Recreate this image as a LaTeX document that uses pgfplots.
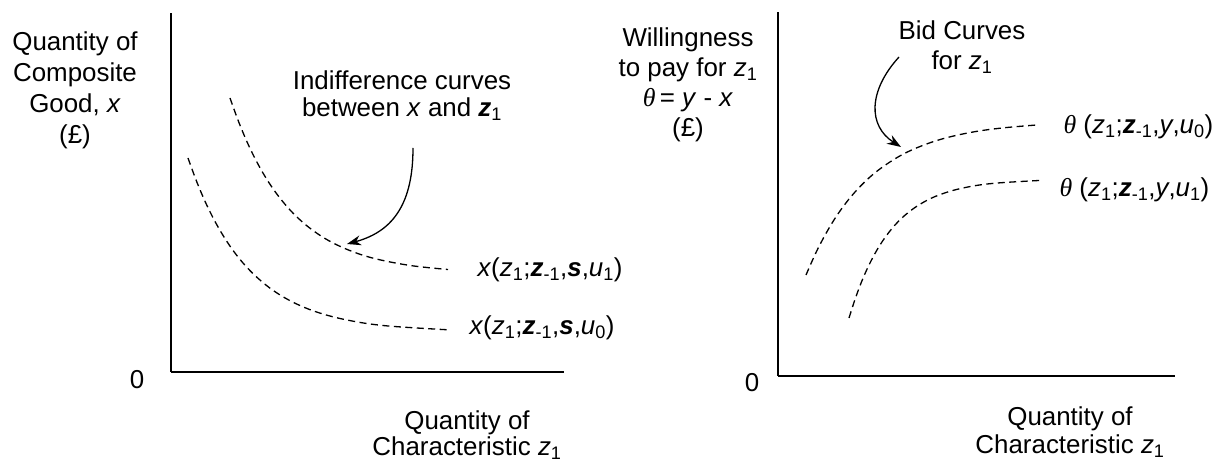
\documentclass[border=0pt]{standalone}
\usepackage{fontspec}
\setmainfont{Liberation Sans}
\newfontfamily\thetafont{Liberation Serif}
\usepackage{pgfplots}
\pgfplotsset{compat=1.18}
\usetikzlibrary{arrows.meta}
\newcommand{\bz}{\textbf{\textit{z}}}
\newcommand{\sub}[1]{\textsubscript{#1}}
\newcommand{\thet}{{\thetafont\itshape θ}}
\pgfplotsset{curve/.style={smooth,tension=0.6,line width=1.3bp,dash pattern=on 7bp off 4.5bp}}
\begin{document}
\begin{tikzpicture}[x=1bp,y=1bp,font=\fontsize{26}{31}\selectfont]
\path (0,0) rectangle (1225,461);
% ---------- left panel ----------
\begin{axis}[at={(171bp,89bp)},anchor=south west,x=1bp,y=1bp,
  xmin=0,xmax=393,ymin=0,ymax=359,axis lines=left,
  axis line style={-,line width=1.5bp},xtick=\empty,ytick=\empty,clip=false]
\addplot[curve] coordinates {
 (59,274) (68,249.3) (78,225.8) (89,204.2) (100,186.2) (112,170.1) (125,155.9) (140,143) (158,131.2) (180,121) (205,113.1) (240,106.4) (277,102.5)};
\addplot[curve] coordinates {
 (17,214) (26,189.6) (36,166.4) (47,145.1) (59,125.9) (72,109) (87,93.7) (104,80.3) (124,68.8) (148,59.2) (178,51.6) (215,46.2) (277,42.2)};
\end{axis}
% ---------- right panel ----------
\begin{axis}[at={(778bp,85bp)},anchor=south west,x=1bp,y=1bp,
  xmin=0,xmax=397,ymin=0,ymax=364,axis lines=left,
  axis line style={-,line width=1.5bp},xtick=\empty,ytick=\empty,clip=false]
\addplot[curve] coordinates {
 (28,101) (40,127.6) (55,154.5) (70,175.7) (85,192.4) (100,205.6) (120,219) (140,228.7) (165,237.3) (195,244) (225,248.1) (260,251.1)};
\addplot[curve] coordinates {
 (71,58) (78,79.5) (86,100.1) (95,118.9) (105,135.6) (117,151) (130,163.3) (145,173.5) (162,181.4) (185,188) (215,192.6) (265,195.7)};
\end{axis}
% ---------- texts ----------
\node[align=center] at (75,370.5) {Quantity of\\Composite\\Good, \textit{x}\\(£)};
\node at (137,81) {0};
\node[align=center,font=\fontsize{26}{26}\selectfont] at (467,25.5) {Quantity of\\Characteristic \textit{z}\sub{1}};
\node[align=center,font=\fontsize{26}{27}\selectfont] at (402,365) {Indifference curves\\between \textit{x} and \bz\sub{1}};
\node[anchor=west] at (474,191) {\textit{x}(\textit{z}\sub{1};\bz\sub{-1},\textbf{\textit{s}},\textit{u}\sub{1})};
\node[anchor=west] at (466,133) {\textit{x}(\textit{z}\sub{1};\bz\sub{-1},\textbf{\textit{s}},\textit{u}\sub{0})};
\draw[line width=1.3bp,-{Stealth[length=14bp,width=10bp]}] (413,313) .. controls (413,260) and (395,230) .. (347,217);
%
\node[align=center,font=\fontsize{26}{30}\selectfont] at (688,376) {Willingness\\to pay for \textit{z}\sub{1}\\\thet\,= \textit{y} - \textit{x}\\(£)};
\node at (752,78) {0};
\node[align=center,font=\fontsize{26}{28}\selectfont] at (1070,29) {Quantity of\\Characteristic \textit{z}\sub{1}};
\node[align=center,font=\fontsize{26}{30}\selectfont] at (962,414) {Bid Curves\\for \textit{z}\sub{1}};
\node[anchor=west] at (1060,334) {\thet\ (\textit{z}\sub{1};\bz\sub{-1},\textit{y},\textit{u}\sub{0})};
\node[anchor=west] at (1056,271) {\thet\ (\textit{z}\sub{1};\bz\sub{-1},\textit{y},\textit{u}\sub{1})};
\draw[line width=1.3bp,-{Stealth[length=14bp,width=10bp]}] (899,404) .. controls (868,370) and (868,335) .. (901,314);
\end{tikzpicture}
\end{document}
